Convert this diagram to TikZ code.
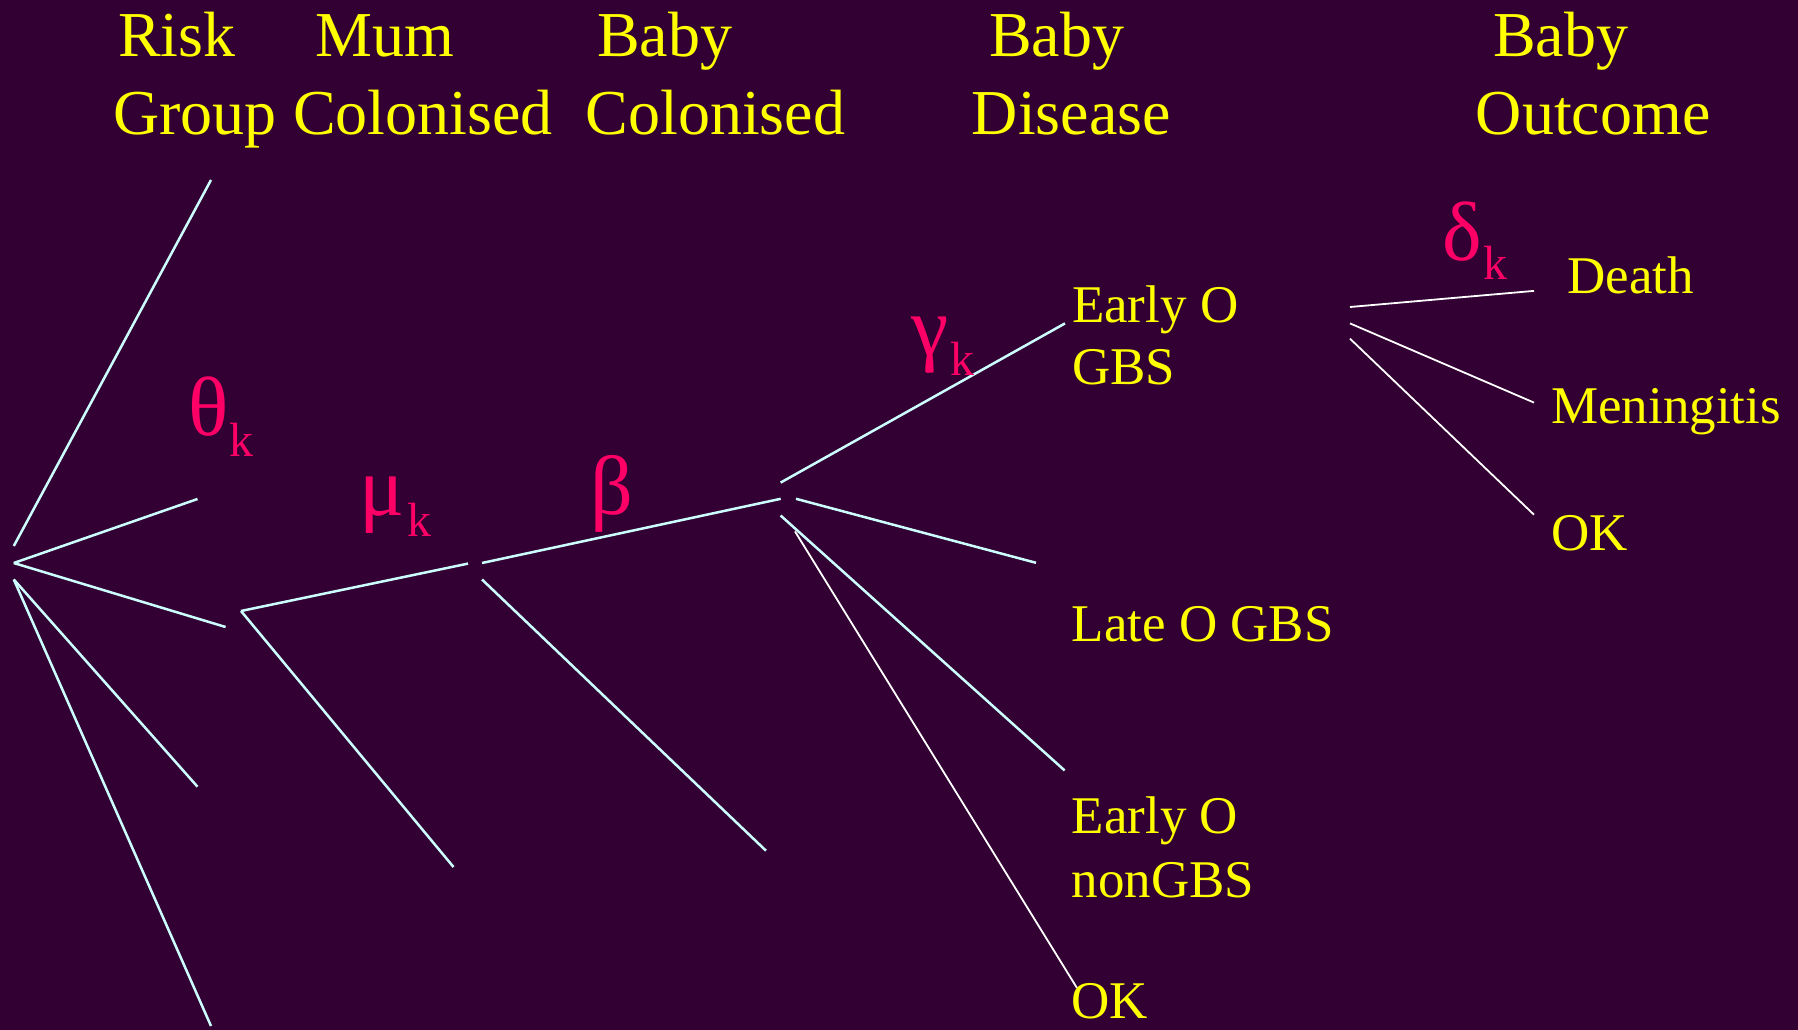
\documentclass[tikz,border=0pt]{standalone}
\usepackage{fontspec}
\setmainfont{Liberation Serif}
\definecolor{slidebg}{HTML}{330033}
\definecolor{hdryellow}{HTML}{FFFF00}
\definecolor{greekpink}{HTML}{FF0066}
\definecolor{branchcyan}{HTML}{CCFFFF}
\tikzset{
  head/.style={text=hdryellow, font=\fontsize{64}{70}\selectfont, anchor=base west, inner sep=0pt},
  leaf/.style={text=hdryellow, font=\fontsize{53}{60}\selectfont, anchor=base west, inner sep=0pt},
  greek/.style={text=greekpink, font=\fontsize{84}{90}\selectfont, anchor=base west, inner sep=0pt},
  subk/.style={text=greekpink, font=\fontsize{48}{52}\selectfont, anchor=base west, inner sep=0pt},
  branch/.style={draw=branchcyan, line width=2.5pt},
  twig/.style={draw=white, line width=1.8pt}
}
\begin{document}
\begin{tikzpicture}[x=1pt,y=-1pt]
  % page and background
  \fill[slidebg] (0,0) rectangle (1798,1030);
  \useasboundingbox (0,0) rectangle (1798,1030);

  % column headings
  \node[head] (h1a) at (118,57) {Risk};
  \node[head] (h1b) at (113,135) {Group};
  \node[head] (h2a) at (315.7,57) {Mum};
  \node[head] (h2b) at (292.8,135) {Colonised};
  \node[head] (h3a) at (597,57) {Baby};
  \node[head] (h3b) at (585.5,135) {Colonised};
  \node[head] (h4a) at (988.8,57) {Baby};
  \node[head] (h4b) at (971.6,135) {Disease};
  \node[head] (h5a) at (1492.8,57) {Baby};
  \node[head] (h5b) at (1475.6,135) {Outcome};

  % branch end points
  \coordinate (r1) at (13.8,546);   \coordinate (t1) at (211,180);
  \coordinate (r2) at (13.8,563);   \coordinate (t2) at (197.5,499);
                                     \coordinate (t3) at (225.6,627);
  \coordinate (r3) at (13.8,579.5); \coordinate (t4) at (197.5,786.7);
                                     \coordinate (t5) at (211,1026);
  \coordinate (m0) at (241,611);    \coordinate (m1) at (468,563.6);
                                     \coordinate (m2) at (453.5,867);
  \coordinate (c0) at (482,563);    \coordinate (c1) at (780.7,498.8);
  \coordinate (c2) at (482,579.5);  \coordinate (c3) at (766,850.7);
  \coordinate (d0) at (780.6,482.6); \coordinate (d1) at (1065,323.4);
  \coordinate (d2) at (796,498.8);  \coordinate (d3) at (1036,562.8);
  \coordinate (d4) at (780.6,515.5); \coordinate (d5) at (1064.6,770.4);
  \coordinate (d6) at (795,531.4);  \coordinate (d7) at (1077,988);
  \coordinate (o0) at (1350,307);   \coordinate (o1) at (1534,290.9);
  \coordinate (o2) at (1350,323.4); \coordinate (o3) at (1534,402.6);
  \coordinate (o4) at (1350,338.7); \coordinate (o5) at (1534,514.7);

  % risk groups
  \draw[branch] (r1) -- (t1);
  \draw[branch] (r2) -- (t2);
  \draw[branch] (r2) -- (t3);
  \draw[branch] (r3) -- (t4);
  \draw[branch] (r3) -- (t5);
  % mother colonised
  \draw[branch] (m0) -- (m1);
  \draw[branch] (m0) -- (m2);
  % baby colonised
  \draw[branch] (c0) -- (c1);
  \draw[branch] (c2) -- (c3);
  % baby disease
  \draw[branch] (d0) -- (d1);
  \draw[branch] (d2) -- (d3);
  \draw[branch] (d4) -- (d5);
  \draw[twig] (d6) -- (d7);
  % baby outcome
  \draw[twig] (o0) -- (o1);
  \draw[twig] (o2) -- (o3);
  \draw[twig] (o4) -- (o5);

  % parameters
  \node[greek] (theta) at (188,435) {θ};
  \node[subk] (thetak) at (229.6,456) {k};
  \node[greek] (mu) at (359,515) {μ};
  \node[subk] (muk) at (407.6,536) {k};
  \node[greek] (beta) at (590,514) {β};
  \node[greek] (gamma) at (911.6,355) {γ};
  \node[subk] (gammak) at (950,375) {k};
  \node[greek] (delta) at (1442,260) {δ};
  \node[subk] (deltak) at (1483,279) {k};

  % disease states
  \node[leaf] (eo1) at (1071.8,322) {Early O};
  \node[leaf] (eo2) at (1071.8,384.6) {GBS};
  \node[leaf] (lo) at (1071.5,641.6) {Late O GBS};
  \node[leaf] (en1) at (1071.5,833.6) {Early O};
  \node[leaf] (en2) at (1071.5,897.6) {nonGBS};
  \node[leaf] (ok1) at (1071.5,1018) {OK};

  % outcomes
  \node[leaf] (death) at (1567,293) {Death};
  \node[leaf] (men) at (1551,423) {Meningitis};
  \node[leaf] (ok2) at (1551,550) {OK};
\end{tikzpicture}
\end{document}
